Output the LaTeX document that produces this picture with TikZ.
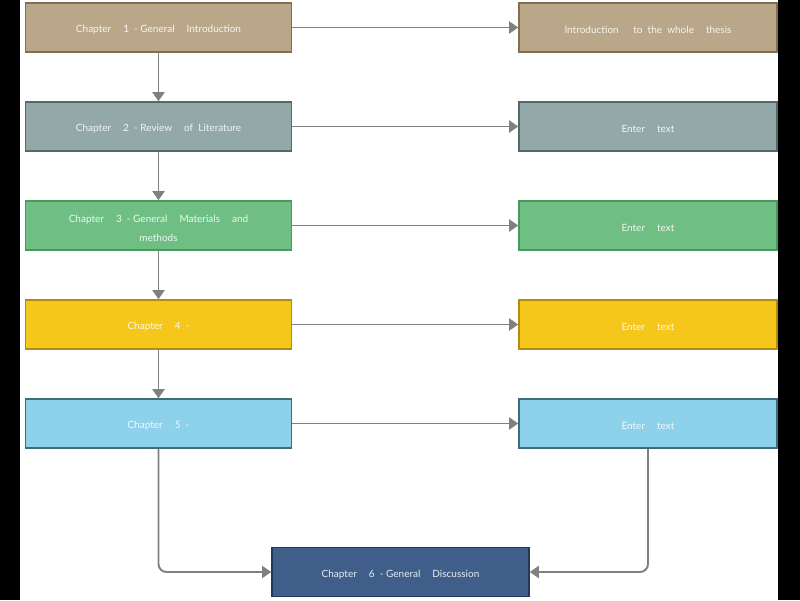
\documentclass[tikz,border=0pt]{standalone}
\usepackage{fontspec}
\setmainfont{Lato}
\usetikzlibrary{arrows.meta}
\definecolor{tanF}{HTML}{BAA789}
\definecolor{tanD}{HTML}{7F7050}
\definecolor{grayF}{HTML}{93A8A8}
\definecolor{grayD}{HTML}{56696A}
\definecolor{greenF}{HTML}{6FBF85}
\definecolor{greenD}{HTML}{479A5E}
\definecolor{yellowF}{HTML}{F5C71A}
\definecolor{yellowD}{HTML}{B08E10}
\definecolor{blueF}{HTML}{8DD1EA}
\definecolor{blueD}{HTML}{3F6B7C}
\definecolor{navyF}{HTML}{3F5F8A}
\definecolor{navyD}{HTML}{22395A}
\definecolor{linkC}{HTML}{808080}
\tikzset{
  box/.style={rectangle, draw, line width=1.6pt, minimum width=266pt, minimum height=49pt,
    inner sep=2pt, text=white, text opacity=0.88, align=center,
    font=\fontsize{10}{19}\selectfont},
  link/.style={draw=linkC, line width=1.9pt, -{Triangle[length=9pt,width=12pt]}},
}
\newcommand{\gapw}{\hspace{1.2em}}
\newcommand{\low}[1]{\raisebox{-2.5pt}[\height][\depth]{#1}}
\begin{document}
\begin{tikzpicture}[x=1pt,y=-1pt]
\fill[black] (0,0) rectangle (800,600);
\fill[white] (20,0) rectangle (778,600);
\useasboundingbox (0,0) rectangle (800,600);
\node[box, fill=tanF, draw=tanD] (c1) at (158.5,27.5) {\low{Chapter\gapw 1 \ - General\gapw Introduction}};
\node[box, fill=grayF, draw=grayD] (c2) at (158.5,126.5) {\low{Chapter\gapw 2 \ - Review\gapw of \ Literature}};
\node[box, fill=greenF, draw=greenD] (c3) at (158.5,225.5) {\low{\begin{tabular}{@{}c@{}}Chapter\gapw 3 \ - General\gapw Materials\gapw and\\[0pt]methods\end{tabular}}};
\node[box, fill=yellowF, draw=yellowD] (c4) at (158.5,324.5) {\low{Chapter\gapw 4 \ -}};
\node[box, fill=blueF, draw=blueD] (c5) at (158.5,423.5) {\low{Chapter\gapw 5 \ -}};
\node[box, fill=tanF, draw=tanD, minimum width=258pt] (r1) at (648,27.5) {\low{Introduction\gapw\ to \ the \ whole\gapw thesis}};
\node[box, fill=grayF, draw=grayD, minimum width=258pt] (r2) at (648,126.5) {\low{Enter\gapw text}};
\node[box, fill=greenF, draw=greenD, minimum width=258pt] (r3) at (648,225.5) {\low{Enter\gapw text}};
\node[box, fill=yellowF, draw=yellowD, minimum width=258pt] (r4) at (648,324.5) {\low{Enter\gapw text}};
\node[box, fill=blueF, draw=blueD, minimum width=258pt] (r5) at (648,423.5) {\low{Enter\gapw text}};
\node[box, fill=navyF, draw=navyD, minimum width=257pt] (c6) at (400.5,572) {\low{Chapter\gapw 6 \ - General\gapw Discussion}};
\foreach \i/\j in {1/2,2/3,3/4,4/5}{
  \draw[link] (c\i.south) -- (c\j.north);
}
\foreach \i in {1,...,5}{
  \draw[link] (c\i.east) -- (r\i.west);
}
\draw[link, rounded corners=8pt] (c5.south) |- (c6.west);
\draw[link, rounded corners=8pt] (r5.south) |- (c6.east);
\end{tikzpicture}
\end{document}
